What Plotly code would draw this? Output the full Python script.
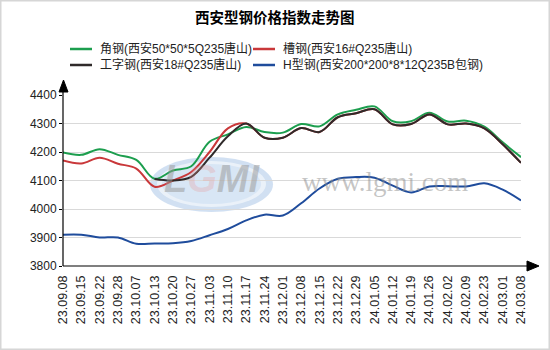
import plotly.graph_objects as go

dates = ["23.09.08", "23.09.15", "23.09.22", "23.09.28", "23.10.07", "23.10.13",
         "23.10.20", "23.10.27", "23.11.03", "23.11.10", "23.11.17", "23.11.24",
         "23.12.01", "23.12.08", "23.12.15", "23.12.22", "23.12.29", "24.01.05",
         "24.01.12", "24.01.19", "24.01.26", "24.02.02", "24.02.09", "24.02.23",
         "24.03.01", "24.03.08"]

angle_steel = [4198, 4190, 4210, 4190, 4172, 4106, 4135, 4150, 4236, 4262, 4288, 4270,
               4268, 4298, 4290, 4332, 4348, 4360, 4308, 4308, 4338, 4307, 4310, 4289,
               4234, 4182]
channel_steel = [4170, 4160, 4180, 4159, 4142, 4078, 4100, 4130, 4200, 4283, 4300, 4250,
                 4250, 4284, 4270, 4322, 4336, 4350, 4297, 4298, 4332, 4297, 4300, 4283,
                 4227, 4162]
i_beam = [None, None, None, None, None, 4105, 4100, 4113, 4180, 4255, 4300, 4250,
          4250, 4284, 4270, 4322, 4336, 4350, 4297, 4298, 4332, 4297, 4300, 4283,
          4227, 4162]
h_beam = [3910, 3910, 3900, 3900, 3878, 3879, 3880, 3888, 3908, 3930, 3960, 3980,
          3977, 4020, 4072, 4106, 4112, 4110, 4082, 4058, 4079, 4080, 4079, 4090,
          4068, 4030]

names = ["角钢(西安50*50*5Q235唐山)", "槽钢(西安16#Q235唐山)",
         "工字钢(西安18#Q235唐山)", "H型钢(西安200*200*8*12Q235B包钢)"]
colors = ["#1c9e4e", "#c9383a", "#2f2a2a", "#1f4c9c"]
series = [angle_steel, channel_steel, i_beam, h_beam]

W, H = 550, 350
L, R, T, B = 63, 29, 95, 84
pw, ph = W - L - R, H - T - B


def px(x):
    return (x - L) / pw


def py(y):
    return (H - B - y) / ph


fig = go.Figure()
for n, c, s in zip(names, colors, series):
    fig.add_trace(go.Scatter(x=dates, y=s, name=n, mode="lines",
                             line=dict(color=c, width=2, shape="spline", smoothing=1),
                             connectgaps=False, showlegend=False))

font_main = "Arial, Liberation Sans, Noto Sans CJK SC"

shapes = []
annotations = []

# watermark logo
shapes.append(dict(type="circle", xref="paper", yref="paper", layer="below",
                   x0=px(150), x1=px(273), y0=py(212), y1=py(157),
                   fillcolor="rgba(178,204,234,0.6)", line=dict(width=0)))
shapes.append(dict(type="circle", xref="paper", yref="paper", layer="below",
                   x0=px(157), x1=px(266), y0=py(207), y1=py(161),
                   fillcolor="rgba(236,243,250,0.9)", line=dict(width=0)))
shapes.append(dict(type="circle", xref="paper", yref="paper", layer="below",
                   x0=px(162), x1=px(261), y0=py(204), y1=py(164),
                   fillcolor="rgba(200,220,242,0.55)", line=dict(width=0)))
annotations.append(dict(xref="paper", yref="paper", x=px(212), y=py(179),
                        xanchor="center", yanchor="middle",
                        text="<b><i>L<span style='color:rgba(232,150,150,0.6)'>G</span>MI</i></b>",
                        showarrow=False,
                        font=dict(family="Liberation Sans", size=38,
                                  color="rgba(150,150,150,0.5)")))
annotations.append(dict(xref="paper", yref="paper", x=px(385), y=py(182),
                        xanchor="center", yanchor="middle",
                        text="www.lgmi.com", showarrow=False,
                        font=dict(family="Liberation Serif", size=27,
                                  color="rgba(140,140,140,0.5)")))

# axis lines with arrows
shapes.append(dict(type="line", xref="paper", yref="paper",
                   x0=0, x1=px(528), y0=0, y1=0, line=dict(color="black", width=1.2)))
shapes.append(dict(type="path", xref="paper", yref="paper",
                   path=f"M{px(527)},{py(261)} L{px(539)},{py(266)} L{px(527)},{py(271)} Z",
                   fillcolor="black", line=dict(color="black", width=1)))
shapes.append(dict(type="line", xref="paper", yref="paper",
                   x0=0, x1=0, y0=0, y1=py(91), line=dict(color="black", width=1.2)))
shapes.append(dict(type="path", xref="paper", yref="paper",
                   path=f"M{px(59)},{py(92)} L{px(63.5)},{py(80)} L{px(68)},{py(92)} Z",
                   fillcolor="black", line=dict(color="black", width=1)))

# outer border
shapes.append(dict(type="rect", xref="paper", yref="paper",
                   x0=px(0.5), x1=px(W - 0.5), y0=py(H - 0.5), y1=py(0.5),
                   line=dict(color="#d6d6d6", width=2)))

# legend (manual, two columns)
leg_pos = [(70, 49), (253, 49), (70, 65), (253, 65)]
for (lx, ly), n, c in zip(leg_pos, names, colors):
    shapes.append(dict(type="line", xref="paper", yref="paper",
                       x0=px(lx), x1=px(lx + 22), y0=py(ly), y1=py(ly),
                       line=dict(color=c, width=2.5)))
    annotations.append(dict(xref="paper", yref="paper", x=px(lx + 28), y=py(ly),
                            xanchor="left", yanchor="middle", text=n, showarrow=False,
                            font=dict(family=font_main, size=12, color="#222222")))

# title
annotations.append(dict(xref="paper", yref="paper", x=px(275), y=py(17),
                        xanchor="center", yanchor="middle",
                        text="<b>西安型钢价格指数走势图</b>", showarrow=False,
                        font=dict(family="Noto Sans CJK SC", size=14.5, color="black")))

fig.update_layout(
    width=W, height=H,
    margin=dict(l=L, r=R, t=T, b=B),
    paper_bgcolor="white", plot_bgcolor="white",
    shapes=shapes, annotations=annotations,
    showlegend=False,
    xaxis=dict(type="category", range=[0, len(dates) - 1], showgrid=False,
               showline=False, zeroline=False, tickangle=-90, ticks="",
               ticklabelstandoff=6,
               tickfont=dict(family=font_main, size=12.5, color="#222222")),
    yaxis=dict(range=[3800, 4400], dtick=100, showgrid=True, gridcolor="#d9d9d9",
               gridwidth=1, zeroline=False, showline=False, ticks="outside",
               ticklen=3, tickcolor="black",
               tickfont=dict(family=font_main, size=12, color="#222222")),
)

fig.write_html("out.html")
